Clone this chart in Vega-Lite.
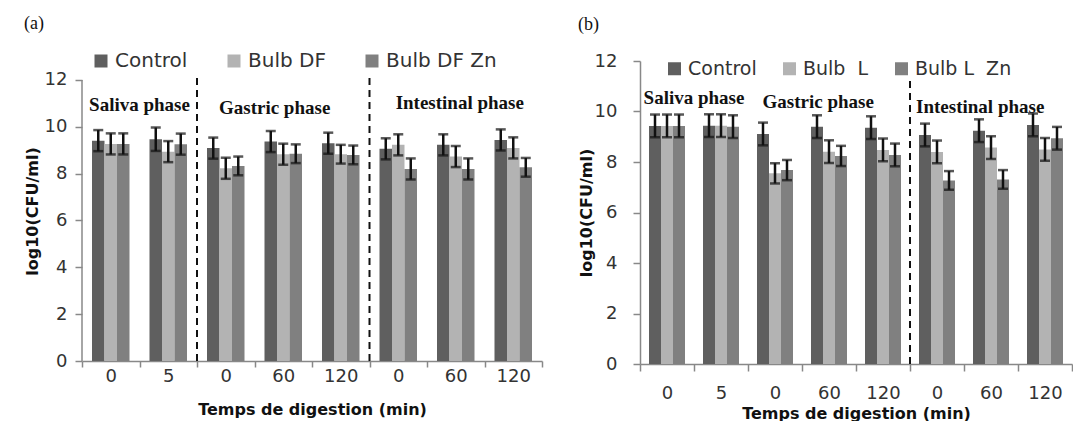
{
  "$schema": "https://vega.github.io/schema/vega-lite/v6.json",
  "background": "white",
  "padding": {"left": 24, "top": 15, "right": 0, "bottom": 0},
  "spacing": 35,
  "resolve": {"scale": {"color": "independent", "xOffset": "independent", "x": "independent", "y": "independent"}, "legend": {"color": "independent"}},
  "config": {
    "font": "DejaVu Sans",
    "view": {"stroke": null},
    "axis": {
      "domainColor": "#888888", "tickColor": "#888888", "domainWidth": 1.5, "tickWidth": 1.5,
      "labelColor": "#333333", "labelFont": "DejaVu Sans", "labelFontSize": 18,
      "titleFont": "DejaVu Sans", "titleFontWeight": "bold", "titleFontSize": 16, "titleColor": "#111111",
      "grid": false
    },
    "legend": {
      "orient": "none", "direction": "horizontal", "title": null,
      "symbolType": "square", "symbolSize": 169, "symbolStrokeWidth": 0,
      "labelFont": "DejaVu Sans", "labelFontSize": 20, "labelColor": "#333333",
      "columnPadding": 36, "labelOffset": 4
    },
    "title": {"font": "Liberation Serif", "fontSize": 18, "fontWeight": "normal", "anchor": "start", "frame": "bounds", "color": "#111111"}
  },
  "datasets": {
    "a": [
      {"step": "Saliva|0", "series": "Control", "value": 9.41, "lo": 8.96, "hi": 9.86},
      {"step": "Saliva|0", "series": "Bulb DF", "value": 9.27, "lo": 8.82, "hi": 9.72},
      {"step": "Saliva|0", "series": "Bulb DF Zn", "value": 9.27, "lo": 8.82, "hi": 9.72},
      {"step": "Saliva|5", "series": "Control", "value": 9.47, "lo": 8.97, "hi": 9.97},
      {"step": "Saliva|5", "series": "Bulb DF", "value": 8.94, "lo": 8.49, "hi": 9.39},
      {"step": "Saliva|5", "series": "Bulb DF Zn", "value": 9.26, "lo": 8.81, "hi": 9.71},
      {"step": "Gastric|0", "series": "Control", "value": 9.09, "lo": 8.64, "hi": 9.54},
      {"step": "Gastric|0", "series": "Bulb DF", "value": 8.23, "lo": 7.78, "hi": 8.68},
      {"step": "Gastric|0", "series": "Bulb DF Zn", "value": 8.33, "lo": 7.93, "hi": 8.73},
      {"step": "Gastric|60", "series": "Control", "value": 9.37, "lo": 8.92, "hi": 9.82},
      {"step": "Gastric|60", "series": "Bulb DF", "value": 8.83, "lo": 8.38, "hi": 9.28},
      {"step": "Gastric|60", "series": "Bulb DF Zn", "value": 8.85, "lo": 8.45, "hi": 9.25},
      {"step": "Gastric|120", "series": "Control", "value": 9.30, "lo": 8.85, "hi": 9.75},
      {"step": "Gastric|120", "series": "Bulb DF", "value": 8.83, "lo": 8.43, "hi": 9.23},
      {"step": "Gastric|120", "series": "Bulb DF Zn", "value": 8.80, "lo": 8.40, "hi": 9.20},
      {"step": "Intestinal|0", "series": "Control", "value": 9.06, "lo": 8.61, "hi": 9.51},
      {"step": "Intestinal|0", "series": "Bulb DF", "value": 9.23, "lo": 8.78, "hi": 9.68},
      {"step": "Intestinal|0", "series": "Bulb DF Zn", "value": 8.20, "lo": 7.75, "hi": 8.65},
      {"step": "Intestinal|60", "series": "Control", "value": 9.23, "lo": 8.78, "hi": 9.68},
      {"step": "Intestinal|60", "series": "Bulb DF", "value": 8.73, "lo": 8.28, "hi": 9.18},
      {"step": "Intestinal|60", "series": "Bulb DF Zn", "value": 8.20, "lo": 7.75, "hi": 8.65},
      {"step": "Intestinal|120", "series": "Control", "value": 9.44, "lo": 8.99, "hi": 9.89},
      {"step": "Intestinal|120", "series": "Bulb DF", "value": 9.10, "lo": 8.65, "hi": 9.55},
      {"step": "Intestinal|120", "series": "Bulb DF Zn", "value": 8.27, "lo": 7.87, "hi": 8.67}
    ],
    "b": [
      {"step": "Saliva|0", "series": "Control", "value": 9.43, "lo": 8.98, "hi": 9.88},
      {"step": "Saliva|0", "series": "Bulb\u00a0\u00a0L", "value": 9.43, "lo": 8.98, "hi": 9.88},
      {"step": "Saliva|0", "series": "Bulb L\u00a0\u00a0Zn", "value": 9.43, "lo": 8.98, "hi": 9.88},
      {"step": "Saliva|5", "series": "Control", "value": 9.44, "lo": 8.99, "hi": 9.89},
      {"step": "Saliva|5", "series": "Bulb\u00a0\u00a0L", "value": 9.44, "lo": 8.99, "hi": 9.89},
      {"step": "Saliva|5", "series": "Bulb L\u00a0\u00a0Zn", "value": 9.40, "lo": 8.95, "hi": 9.85},
      {"step": "Gastric|0", "series": "Control", "value": 9.11, "lo": 8.66, "hi": 9.56},
      {"step": "Gastric|0", "series": "Bulb\u00a0\u00a0L", "value": 7.55, "lo": 7.15, "hi": 7.95},
      {"step": "Gastric|0", "series": "Bulb L\u00a0\u00a0Zn", "value": 7.68, "lo": 7.28, "hi": 8.08},
      {"step": "Gastric|60", "series": "Control", "value": 9.40, "lo": 8.95, "hi": 9.85},
      {"step": "Gastric|60", "series": "Bulb\u00a0\u00a0L", "value": 8.41, "lo": 7.96, "hi": 8.86},
      {"step": "Gastric|60", "series": "Bulb L\u00a0\u00a0Zn", "value": 8.24, "lo": 7.84, "hi": 8.64},
      {"step": "Gastric|120", "series": "Control", "value": 9.36, "lo": 8.91, "hi": 9.81},
      {"step": "Gastric|120", "series": "Bulb\u00a0\u00a0L", "value": 8.48, "lo": 8.03, "hi": 8.93},
      {"step": "Gastric|120", "series": "Bulb L\u00a0\u00a0Zn", "value": 8.28, "lo": 7.83, "hi": 8.73},
      {"step": "Intestinal|0", "series": "Control", "value": 9.07, "lo": 8.62, "hi": 9.52},
      {"step": "Intestinal|0", "series": "Bulb\u00a0\u00a0L", "value": 8.40, "lo": 7.95, "hi": 8.85},
      {"step": "Intestinal|0", "series": "Bulb L\u00a0\u00a0Zn", "value": 7.27, "lo": 6.90, "hi": 7.64},
      {"step": "Intestinal|60", "series": "Control", "value": 9.24, "lo": 8.79, "hi": 9.69},
      {"step": "Intestinal|60", "series": "Bulb\u00a0\u00a0L", "value": 8.57, "lo": 8.12, "hi": 9.02},
      {"step": "Intestinal|60", "series": "Bulb L\u00a0\u00a0Zn", "value": 7.31, "lo": 6.94, "hi": 7.68},
      {"step": "Intestinal|120", "series": "Control", "value": 9.47, "lo": 9.02, "hi": 9.92},
      {"step": "Intestinal|120", "series": "Bulb\u00a0\u00a0L", "value": 8.50, "lo": 8.05, "hi": 8.95},
      {"step": "Intestinal|120", "series": "Bulb L\u00a0\u00a0Zn", "value": 8.94, "lo": 8.49, "hi": 9.39}
    ],
    "axisA": [{"at": "Saliva|0", "bottom": 0, "top": 12}],
    "linesA": [
      {"at": "Gastric|0", "bottom": 0, "top": 12.2},
      {"at": "Intestinal|0", "bottom": 0, "top": 12.2}
    ],
    "linesB": [
      {"at": "Intestinal|0", "bottom": 0, "top": 11.4}
    ],
    "edgeA": [{"at": "Saliva|5", "text": "Saliva phase", "y": 10.93}],
    "gasA": [{"at": "Gastric|60", "text": "Gastric phase", "y": 10.8}],
    "intA": [{"at": "Intestinal|60", "text": "Intestinal phase", "y": 11.0}],
    "edgeB": [{"at": "Saliva|5", "text": "Saliva phase", "y": 10.53}],
    "midB": [
      {"at": "Gastric|60", "text": "Gastric phase", "y": 10.38},
      {"at": "Intestinal|60", "text": "Intestinal phase", "y": 10.18}
    ]
  },
  "hconcat": [
    {
      "title": {"text": "(a)", "offset": 18},
      "width": 460,
      "height": 300,
      "layer": [
        {
          "data": {"name": "a"},
          "mark": {"type": "bar"},
          "encoding": {
            "x": {"field": "step", "type": "nominal", "title": "Temps de digestion (min)",
              "scale": {"domain": ["Saliva|0", "Saliva|5", "Gastric|0", "Gastric|60", "Gastric|120", "Intestinal|0", "Intestinal|60", "Intestinal|120"], "paddingInner": 0, "paddingOuter": 0},
              "axis": {"labelExpr": "split(datum.label,'|')[1]", "labelAngle": 0, "tickBand": "extent", "tickSize": 6, "labelPadding": 0, "titlePadding": 16}},
            "xOffset": {"field": "series", "type": "nominal", "scale": {"domain": ["Control", "Bulb DF", "Bulb DF Zn"], "paddingOuter": 0.8, "paddingInner": 0}},
            "y": {"field": "value", "type": "quantitative", "title": "log10(CFU/ml)",
              "scale": {"domain": [0, 12.81], "nice": false},
              "axis": {"values": [0, 2, 4, 6, 8, 10, 12], "domain": false, "tickSize": 7, "labelPadding": 8, "titlePadding": 4}},
            "color": {"field": "series", "type": "nominal",
              "scale": {"domain": ["Control", "Bulb DF", "Bulb DF Zn"], "range": ["#5f5f5f", "#b3b3b3", "#808080"]},
              "legend": {"legendX": 9, "legendY": -10}}
          }
        },
        {
          "data": {"name": "axisA"},
          "mark": {"type": "rule", "color": "#888888", "strokeWidth": 1.5},
          "encoding": {
            "x": {"field": "at", "type": "nominal", "bandPosition": 0, "title": "Temps de digestion (min)"},
            "y": {"field": "bottom", "type": "quantitative", "title": "log10(CFU/ml)"},
            "y2": {"field": "top"}
          }
        },
        {
          "data": {"name": "a"},
          "mark": {"type": "rule", "color": "#111111", "strokeWidth": 2.5},
          "encoding": {
            "x": {"field": "step", "type": "nominal", "title": "Temps de digestion (min)"},
            "xOffset": {"field": "series", "type": "nominal"},
            "y": {"field": "lo", "type": "quantitative", "title": "log10(CFU/ml)"},
            "y2": {"field": "hi"}
          }
        },
        {
          "data": {"name": "a"},
          "mark": {"type": "tick", "color": "#111111", "thickness": 2.5, "size": 10},
          "encoding": {
            "x": {"field": "step", "type": "nominal", "title": "Temps de digestion (min)"},
            "xOffset": {"field": "series", "type": "nominal"},
            "y": {"field": "lo", "type": "quantitative", "title": "log10(CFU/ml)"}
          }
        },
        {
          "data": {"name": "a"},
          "mark": {"type": "tick", "color": "#111111", "thickness": 2.5, "size": 10},
          "encoding": {
            "x": {"field": "step", "type": "nominal", "title": "Temps de digestion (min)"},
            "xOffset": {"field": "series", "type": "nominal"},
            "y": {"field": "hi", "type": "quantitative", "title": "log10(CFU/ml)"}
          }
        },
        {
          "data": {"name": "linesA"},
          "mark": {"type": "rule", "color": "#111111", "strokeWidth": 2, "strokeDash": [7, 5], "clip": false},
          "encoding": {
            "x": {"field": "at", "type": "nominal", "bandPosition": 0, "title": "Temps de digestion (min)"},
            "y": {"field": "bottom", "type": "quantitative", "title": "log10(CFU/ml)"},
            "y2": {"field": "top"}
          }
        },
        {
          "data": {"name": "edgeA"},
          "mark": {"type": "text", "font": "Liberation Serif", "fontWeight": "bold", "fontSize": 19, "color": "#111111", "align": "center", "baseline": "middle"},
          "encoding": {
            "x": {"field": "at", "type": "nominal", "bandPosition": 0, "title": "Temps de digestion (min)"},
            "y": {"field": "y", "type": "quantitative", "title": "log10(CFU/ml)"},
            "text": {"field": "text"}
          }
        },
        {
          "data": {"name": "gasA"},
          "mark": {"type": "text", "font": "Liberation Serif", "fontWeight": "bold", "fontSize": 19, "color": "#111111", "align": "center", "baseline": "middle"},
          "encoding": {
            "x": {"field": "at", "type": "nominal", "bandPosition": 0.35, "title": "Temps de digestion (min)"},
            "y": {"field": "y", "type": "quantitative", "title": "log10(CFU/ml)"},
            "text": {"field": "text"}
          }
        },
        {
          "data": {"name": "intA"},
          "mark": {"type": "text", "font": "Liberation Serif", "fontWeight": "bold", "fontSize": 19, "color": "#111111", "align": "center", "baseline": "middle"},
          "encoding": {
            "x": {"field": "at", "type": "nominal", "bandPosition": 0.57, "title": "Temps de digestion (min)"},
            "y": {"field": "y", "type": "quantitative", "title": "log10(CFU/ml)"},
            "text": {"field": "text"}
          }
        }
      ]
    },
    {
      "title": {"text": "(b)", "offset": 18},
      "width": 432,
      "height": 303,
      "layer": [
        {
          "data": {"name": "b"},
          "mark": {"type": "bar"},
          "encoding": {
            "x": {"field": "step", "type": "nominal", "title": "Temps de digestion (min)",
              "scale": {"domain": ["Saliva|0", "Saliva|5", "Gastric|0", "Gastric|60", "Gastric|120", "Intestinal|0", "Intestinal|60", "Intestinal|120"], "paddingInner": 0, "paddingOuter": 0},
              "axis": {"labelExpr": "split(datum.label,'|')[1]", "labelAngle": 0, "tickBand": "extent", "tickSize": 7, "labelPadding": 13, "titlePadding": 3}},
            "xOffset": {"field": "series", "type": "nominal", "scale": {"domain": ["Control", "Bulb\u00a0\u00a0L", "Bulb L\u00a0\u00a0Zn"], "paddingOuter": 0.75, "paddingInner": 0}},
            "y": {"field": "value", "type": "quantitative", "title": "log10(CFU/ml)",
              "scale": {"domain": [0, 12], "nice": false},
              "axis": {"values": [0, 2, 4, 6, 8, 10, 12], "tickSize": 7, "labelPadding": 16, "titlePadding": 0}},
            "color": {"field": "series", "type": "nominal",
              "scale": {"domain": ["Control", "Bulb\u00a0\u00a0L", "Bulb L\u00a0\u00a0Zn"], "range": ["#5f5f5f", "#b3b3b3", "#808080"]},
              "legend": {"legendX": 25, "legendY": -2, "columnPadding": 23, "labelFontSize": 19}}
          }
        },
        {
          "data": {"name": "b"},
          "mark": {"type": "rule", "color": "#111111", "strokeWidth": 2.5},
          "encoding": {
            "x": {"field": "step", "type": "nominal", "title": "Temps de digestion (min)"},
            "xOffset": {"field": "series", "type": "nominal"},
            "y": {"field": "lo", "type": "quantitative", "title": "log10(CFU/ml)"},
            "y2": {"field": "hi"}
          }
        },
        {
          "data": {"name": "b"},
          "mark": {"type": "tick", "color": "#111111", "thickness": 2.5, "size": 10},
          "encoding": {
            "x": {"field": "step", "type": "nominal", "title": "Temps de digestion (min)"},
            "xOffset": {"field": "series", "type": "nominal"},
            "y": {"field": "lo", "type": "quantitative", "title": "log10(CFU/ml)"}
          }
        },
        {
          "data": {"name": "b"},
          "mark": {"type": "tick", "color": "#111111", "thickness": 2.5, "size": 10},
          "encoding": {
            "x": {"field": "step", "type": "nominal", "title": "Temps de digestion (min)"},
            "xOffset": {"field": "series", "type": "nominal"},
            "y": {"field": "hi", "type": "quantitative", "title": "log10(CFU/ml)"}
          }
        },
        {
          "data": {"name": "linesB"},
          "mark": {"type": "rule", "color": "#111111", "strokeWidth": 2, "strokeDash": [7, 5], "clip": false},
          "encoding": {
            "x": {"field": "at", "type": "nominal", "bandPosition": 0, "title": "Temps de digestion (min)"},
            "y": {"field": "bottom", "type": "quantitative", "title": "log10(CFU/ml)"},
            "y2": {"field": "top"}
          }
        },
        {
          "data": {"name": "edgeB"},
          "mark": {"type": "text", "font": "Liberation Serif", "fontWeight": "bold", "fontSize": 19, "color": "#111111", "align": "center", "baseline": "middle"},
          "encoding": {
            "x": {"field": "at", "type": "nominal", "bandPosition": 0, "title": "Temps de digestion (min)"},
            "y": {"field": "y", "type": "quantitative", "title": "log10(CFU/ml)"},
            "text": {"field": "text"}
          }
        },
        {
          "data": {"name": "midB"},
          "mark": {"type": "text", "font": "Liberation Serif", "fontWeight": "bold", "fontSize": 19, "color": "#111111", "align": "center", "baseline": "middle"},
          "encoding": {
            "x": {"field": "at", "type": "nominal", "bandPosition": 0.3, "title": "Temps de digestion (min)"},
            "y": {"field": "y", "type": "quantitative", "title": "log10(CFU/ml)"},
            "text": {"field": "text"}
          }
        }
      ]
    }
  ]
}
